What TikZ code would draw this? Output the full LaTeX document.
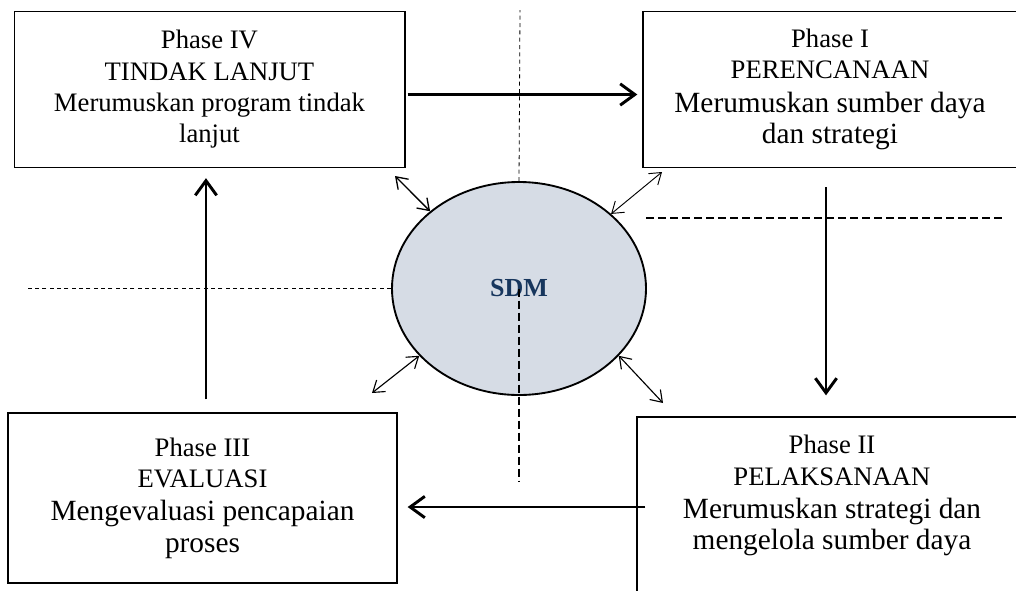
\documentclass[tikz,border=0pt]{standalone}
\usepackage{fontspec}
\setmainfont{Liberation Serif}
\usepackage{tikz}
\usetikzlibrary{shapes, arrows.meta}
\definecolor{sdmfill}{RGB}{214,220,229}
\definecolor{sdmblue}{RGB}{23,54,93}
\newcommand{\phasetitle}{\fontsize{20}{23.5}\selectfont}
\newcommand{\phasetext}{\fontsize{22}{25}\selectfont}
\tikzstyle{phase}=[%
      rectangle, draw=black, line width=1pt, fill=none,
      align=center, inner sep=0pt, font=\phasetitle,
      minimum width=293pt, minimum height=117pt
]
\tikzstyle{core}=[%
      ellipse, draw=black, line width=1.4pt, fill=sdmfill, text=sdmblue,
      minimum width=190.5pt, minimum height=159.75pt, inner sep=0pt,
      font=\fontsize{19.5}{22}\selectfont\bfseries
]
\tikzstyle{flow}=[line width=2.2pt, -{Straight Barb[length=11pt,width=16pt]}]
\tikzstyle{link}=[line width=0.7pt,
      {Straight Barb[length=8pt,width=11pt]}-{Straight Barb[length=8pt,width=11pt]}]
\tikzstyle{divider}=[line width=0.6pt, dash pattern=on 3pt off 2.5pt]
\tikzstyle{divider thick}=[line width=1pt, dash pattern=on 6pt off 3pt]

\begin{document}
\begin{tikzpicture}[x=0.75pt, y=-0.75pt]
    \useasboundingbox (0,0) rectangle (1016,590);
    \clip (0,0) rectangle (1016,590);

    % the four phases
    \node[phase] (phaseIV) at (209.5,89.5)
        {Phase IV\\TINDAK LANJUT\\Merumuskan program tindak\\lanjut};
    \node[phase, minimum width=280.5pt] (phaseI) at (830,89.5)
        {Phase I\\PERENCANAAN\\[1.5pt]{\phasetext Merumuskan sumber daya}\\{\phasetext dan strategi}};
    \node[phase, minimum width=291.75pt, minimum height=127.5pt] (phaseIII) at (202.5,498)
        {Phase III\\EVALUASI\\[1.5pt]{\phasetext Mengevaluasi pencapaian}\\{\phasetext proses}};
    \node[phase, minimum width=292.5pt, minimum height=132pt] (phaseII) at (832,505)
        {Phase II\\PELAKSANAAN\\[1.5pt]{\phasetext Merumuskan strategi dan}\\{\phasetext mengelola sumber daya}\\[-5pt]\mbox{}};

    % centre
    \node[core] (sdm) at (519,288.5) {SDM};

    % dividers
    \coordinate (dashT) at (520,10);
    \coordinate (dashL) at (28,288.5);
    \coordinate (dashB) at (518,482);
    \coordinate (dashRa) at (646,218);
    \coordinate (dashRb) at (1003,218);
    \draw[divider] (sdm.north) -- (dashT);
    \draw[divider] (sdm.west) -- (dashL);
    \draw[divider thick] (sdm.center) -- (sdm.center |- dashB);
    \draw[divider thick] (dashRa) -- (dashRb);

    % cycle
    \coordinate (flowT) at ([xshift=1.5pt,yshift=-3.75pt]phaseIV.east);
    \coordinate (flowR) at ([xshift=-3pt]phaseI.south);
    \coordinate (flowB) at ([xshift=6.75pt,yshift=-1.5pt]phaseII.west);
    \coordinate (flowL) at ([xshift=2.6pt]phaseIII.north);
    \draw[flow, shorten >=3.75pt] (flowT) -- (flowT -| phaseI.west);
    \draw[flow, shorten <=14.25pt, shorten >=15.75pt] (flowR) -- (flowR |- phaseII.north);
    \draw[flow, shorten >=7.5pt] (flowB) -- (flowB -| phaseIII.east);
    \draw[flow, shorten <=9.75pt, shorten >=7.5pt] (flowL) -- (flowL |- phaseIV.south);

    % links to the centre
    \coordinate (lnk1) at (395,176);
    \coordinate (lnk2) at (662,172);
    \coordinate (lnk3) at (372,393);
    \coordinate (lnk4) at (663,403);
    \draw[link, line width=1pt] (lnk1) -- (sdm.139);
    \draw[link] (lnk2) -- (sdm.39);
    \draw[link, line width=0.85pt] (lnk3) -- (sdm.214);
    \draw[link, line width=0.85pt] (lnk4) -- (sdm.326);
\end{tikzpicture}
\end{document}
